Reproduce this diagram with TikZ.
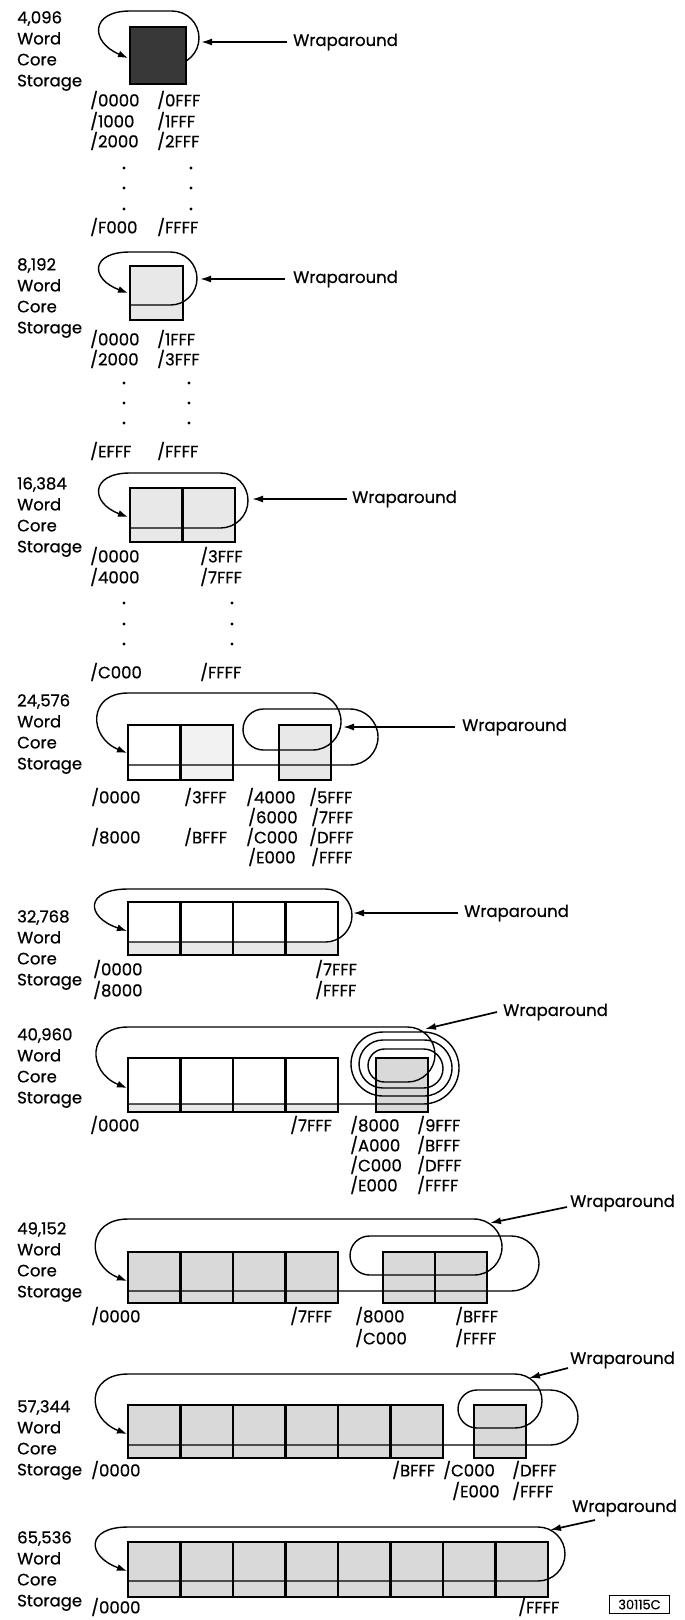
\documentclass[tikz,border=0pt]{standalone}
\usepackage{fontspec}
\setmainfont{Poppins}[FakeBold=0.6]
\usetikzlibrary{arrows.meta}
\definecolor{boxgray}{gray}{0.85}
\definecolor{lightbox}{gray}{0.91}
\definecolor{paler}{gray}{0.95}
\definecolor{darkbox}{gray}{0.22}
\tikzset{
  sbox/.style={draw, line width=2.2pt, fill=boxgray},
  sdiv/.style={line width=2.2pt},
  wa/.style={line width=1.4pt, -{Latex[length=10pt,width=7pt]}},
  pa/.style={line width=1.7pt, -{Latex[length=11pt,width=7pt]}},
  addr/.style={anchor=west, inner sep=0pt},
  lbl/.style={anchor=north west, inner sep=0pt, align=left},
  wrap/.style={anchor=west, inner sep=0pt},
}
\begin{document}
\begin{tikzpicture}[x=1pt,y=1pt,font=\fontsize{16.5}{21}\selectfont]
\path[use as bounding box] (0,0) rectangle (685,-1620);

% ---------------- 4,096
\node[lbl] (L1) at (17,-11) {4,096\\Word\\Core\\Storage};
\draw[wa] (172,-65) arc[start angle=-90,end angle=90,radius=27] -- (130,-11) .. controls (90,-11) and (90,-42) .. (128,-58);
\draw[line width=1.5pt, fill=darkbox] (130,-27) rectangle (186,-84);
\node[wrap] (w1) at (293,-42) {Wraparound};
\coordinate (t1) at (201,-42);
\draw[pa] ([xshift=-6pt]w1.west) -- (t1);
\node[addr] (a1a) at (90,-100) {/0000};
\node[addr] (a1b) at (157,-100) {/0FFF};
\node[addr] (a1c) at (90,-121) {/1000};
\node[addr] (a1d) at (157,-121) {/1FFF};
\node[addr] (a1e) at (90,-141) {/2000};
\node[addr] (a1f) at (157,-141) {/2FFF};
\foreach \y in {168,188,209} {\fill (124,-\y) circle (1.6); \fill (191,-\y) circle (1.6);}
\node[addr] (a1g) at (90,-227) {/F000};
\node[addr] (a1h) at (157,-227) {/FFFF};

% ---------------- 8,192
\node[lbl] (L2) at (17,-258) {8,192\\Word\\Core\\Storage};
\draw[sbox, fill=lightbox] (130,-266) rectangle (183,-320);
\draw[wa] (130,-305) -- (170.5,-305) arc[start angle=-90,end angle=90,radius=26.5] -- (130,-252) .. controls (90,-252) and (90,-279) .. (128,-293);
\node[wrap] (w2) at (293,-279) {Wraparound};
\coordinate (t2) at (200,-279);
\draw[pa] ([xshift=-8pt]w2.west) -- (t2);
\node[addr] (a2a) at (90,-339) {/0000};
\node[addr] (a2b) at (157,-339) {/1FFF};
\node[addr] (a2c) at (90,-359) {/2000};
\node[addr] (a2d) at (157,-359) {/3FFF};
\foreach \y in {383,403,423} {\fill (124,-\y) circle (1.6); \fill (189,-\y) circle (1.6);}
\node[addr] (a2e) at (90,-451) {/EFFF};
\node[addr] (a2f) at (157,-451) {/FFFF};

% ---------------- 16,384
\node[lbl] (L3) at (17,-477) {16,384\\Word\\Core\\Storage};
\draw[sbox, fill=lightbox] (130,-488) rectangle (235,-542);
\draw[sdiv] (182.5,-488) -- (182.5,-542);
\draw[wa] (130,-528) -- (220.5,-528) arc[start angle=-90,end angle=90,radius=27.5] -- (130,-473) .. controls (90,-473) and (90,-503) .. (128,-517);
\node[wrap] (w3) at (352,-499) {Wraparound};
\coordinate (t3) at (252,-499);
\draw[pa] ([xshift=-5pt]w3.west) -- (t3);
\node[addr] (a3a) at (90,-556) {/0000};
\node[addr] (a3b) at (200,-556) {/3FFF};
\node[addr] (a3c) at (90,-577) {/4000};
\node[addr] (a3d) at (200,-577) {/7FFF};
\foreach \y in {603,624,644} {\fill (124,-\y) circle (1.6); \fill (232,-\y) circle (1.6);}
\node[addr] (a3e) at (90,-672) {/C000};
\node[addr] (a3f) at (200,-672) {/FFFF};

% ---------------- 24,576
\node[lbl] (L4) at (17,-694) {24,576\\Word\\Core\\Storage};
\draw[sbox, fill=white] (128,-725) rectangle (180.5,-780);
\draw[sbox, fill=paler] (180.5,-725) rectangle (233,-780);
\draw[sbox, fill=lightbox] (279,-725) rectangle (331,-780);
\draw[wa] (128,-765) -- (350,-765) arc[start angle=-90,end angle=90,radius=28] -- (263.5,-709) arc[start angle=90,end angle=270,radius=20.5] -- (312.5,-750) arc[start angle=-90,end angle=90,radius=28.5] -- (128,-693) .. controls (88,-693) and (88,-737) .. (127,-753);
\node[wrap] (w4) at (462,-727) {Wraparound};
\coordinate (t4) at (343,-727);
\draw[pa] ([xshift=-7pt]w4.west) -- (t4);
\node[addr] (a4a) at (91,-797) {/0000};
\node[addr] (a4b) at (184,-797) {/3FFF};
\node[addr] (a4c) at (246,-797) {/4000};
\node[addr] (a4d) at (309,-797) {/5FFF};
\node[addr] (a4e) at (248,-817) {/6000};
\node[addr] (a4f) at (311,-817) {/7FFF};
\node[addr] (a4g) at (91,-837) {/8000};
\node[addr] (a4h) at (184,-837) {/BFFF};
\node[addr] (a4i) at (246,-837) {/C000};
\node[addr] (a4j) at (309,-837) {/DFFF};
\node[addr] (a4k) at (248,-857) {/E000};
\node[addr] (a4l) at (311,-857) {/FFFF};

% ---------------- 32,768
\node[lbl] (L5) at (17,-910) {32,768\\Word\\Core\\Storage};
\fill[lightbox] (128,-942) rectangle (338,-955);
\draw[line width=2.2pt] (128,-902) rectangle (338,-955);
\foreach \x in {180.5,233,285.5} {\draw[sdiv] (\x,-902) -- (\x,-955);}
\draw[wa] (128,-942) -- (325.5,-942) arc[start angle=-90,end angle=90,radius=26.5] -- (128,-889) .. controls (85,-889) and (85,-917) .. (127,-931);
\node[wrap] (w5) at (464,-913) {Wraparound};
\coordinate (t5) at (353,-913);
\draw[pa] ([xshift=-6pt]w5.west) -- (t5);
\node[addr] (a5a) at (93,-969) {/0000};
\node[addr] (a5b) at (315,-969) {/7FFF};
\node[addr] (a5c) at (93,-990) {/8000};
\node[addr] (a5d) at (315,-990) {/FFFF};

% ---------------- 40,960
\node[lbl] (L6) at (17,-1028) {40,960\\Word\\Core\\Storage};
\fill[lightbox] (128,-1104) rectangle (338,-1112);
\draw[line width=2.2pt] (128,-1058) rectangle (338,-1112);
\foreach \x in {180.5,233,285.5} {\draw[sdiv] (\x,-1058) -- (\x,-1112);}
\draw[sbox] (376,-1058) rectangle (428,-1112);
\draw[wa] (128,-1104) -- (423,-1104) arc[start angle=-90,end angle=90,radius=36] -- (383,-1032) arc[start angle=90,end angle=270,radius=32] -- (424,-1096) arc[start angle=-90,end angle=90,radius=28] -- (383,-1040) arc[start angle=90,end angle=270,radius=24] -- (423.5,-1088) arc[start angle=-90,end angle=90,radius=19.5] -- (384.5,-1049) arc[start angle=90,end angle=270,radius=16.5] -- (407.5,-1082) arc[start angle=-90,end angle=90,radius=27.5] -- (128,-1027) .. controls (87,-1027) and (87,-1072) .. (127,-1088);
\node[wrap] (w6) at (503,-1012) {Wraparound};
\coordinate (t6) at (425,-1029);
\draw[pa] ([xshift=-6pt]w6.west) -- (t6);
\node[addr] (a6a) at (90,-1125) {/0000};
\node[addr] (a6b) at (290,-1125) {/7FFF};
\node[addr] (a6c) at (350,-1125) {/8000};
\node[addr] (a6d) at (417,-1125) {/9FFF};
\node[addr] (a6e) at (350,-1145) {/A000};
\node[addr] (a6f) at (417,-1145) {/BFFF};
\node[addr] (a6g) at (350,-1165) {/C000};
\node[addr] (a6h) at (417,-1165) {/DFFF};
\node[addr] (a6i) at (350,-1185) {/E000};
\node[addr] (a6j) at (417,-1185) {/FFFF};

% ---------------- 49,152
\node[lbl] (L7) at (17,-1222) {49,152\\Word\\Core\\Storage};
\draw[sbox] (128,-1252) rectangle (338,-1303);
\foreach \x in {180.5,233,285.5} {\draw[sdiv] (\x,-1252) -- (\x,-1303);}
\draw[sbox] (383,-1252) rectangle (487,-1303);
\draw[sdiv] (435,-1252) -- (435,-1303);
\draw[wa] (128,-1291) -- (511.5,-1291) arc[start angle=-90,end angle=90,radius=27.5] -- (369.5,-1236) arc[start angle=90,end angle=270,radius=19.5] -- (474,-1275) arc[start angle=-90,end angle=90,radius=28] -- (128,-1219) .. controls (86,-1219) and (86,-1265) .. (127,-1281);
\node[wrap] (w7) at (570,-1203) {Wraparound};
\coordinate (t7) at (490,-1223);
\draw[pa] ([shift={(-3pt,-4pt)}]w7.west) -- (t7);
\node[addr] (a7a) at (91,-1316) {/0000};
\node[addr] (a7b) at (290,-1316) {/7FFF};
\node[addr] (a7c) at (355,-1316) {/8000};
\node[addr] (a7d) at (455,-1316) {/BFFF};
\node[addr] (a7e) at (355,-1338) {/C000};
\node[addr] (a7f) at (455,-1338) {/FFFF};

% ---------------- 57,344
\node[lbl] (L8) at (17,-1400) {57,344\\Word\\Core\\Storage};
\draw[sbox] (128,-1405) rectangle (443,-1458);
\foreach \x in {180.5,233,285.5,338,390.5} {\draw[sdiv] (\x,-1405) -- (\x,-1458);}
\draw[sbox] (474,-1405) rectangle (526,-1458);
\draw[wa] (128,-1445) -- (550.5,-1445) arc[start angle=-90,end angle=90,radius=27.5] -- (477,-1390) arc[start angle=90,end angle=270,radius=19] -- (515,-1428) arc[start angle=-90,end angle=90,radius=27] -- (128,-1374) .. controls (86,-1374) and (86,-1418) .. (127,-1434);
\node[wrap] (w8) at (570,-1360) {Wraparound};
\coordinate (t8) at (529,-1378);
\draw[pa] ([shift={(-2pt,-8pt)}]w8.west) -- (t8);
\node[addr] (a8a) at (91,-1470) {/0000};
\node[addr] (a8b) at (392,-1470) {/BFFF};
\node[addr] (a8c) at (443,-1470) {/C000};
\node[addr] (a8d) at (512,-1470) {/DFFF};
\node[addr] (a8e) at (452,-1491) {/E000};
\node[addr] (a8f) at (512,-1491) {/FFFF};

% ---------------- 65,536
\node[lbl] (L9) at (17,-1531) {65,536\\Word\\Core\\Storage};
\draw[sbox] (128,-1542) rectangle (548,-1597);
\foreach \x in {180.5,233,285.5,338,390.5,443,495.5} {\draw[sdiv] (\x,-1542) -- (\x,-1597);}
\draw[wa] (128,-1581) -- (538,-1581) arc[start angle=-90,end angle=90,radius=27] -- (128,-1527) .. controls (86,-1527) and (86,-1556) .. (127,-1571);
\node[wrap] (w9) at (572,-1508) {Wraparound};
\coordinate (t9) at (550,-1530);
\draw[pa] ([shift={(23pt,-12pt)}]w9.west) -- (t9);
\node[addr] (a9a) at (91,-1607) {/0000};
\node[addr] (a9b) at (518,-1607) {/FFFF};
\node[draw, line width=1pt, minimum width=60pt, minimum height=18pt, inner sep=0pt, font=\fontsize{13}{15}\selectfont] (id) at (639.5,-1604.5) {30115C};
\end{tikzpicture}
\end{document}
